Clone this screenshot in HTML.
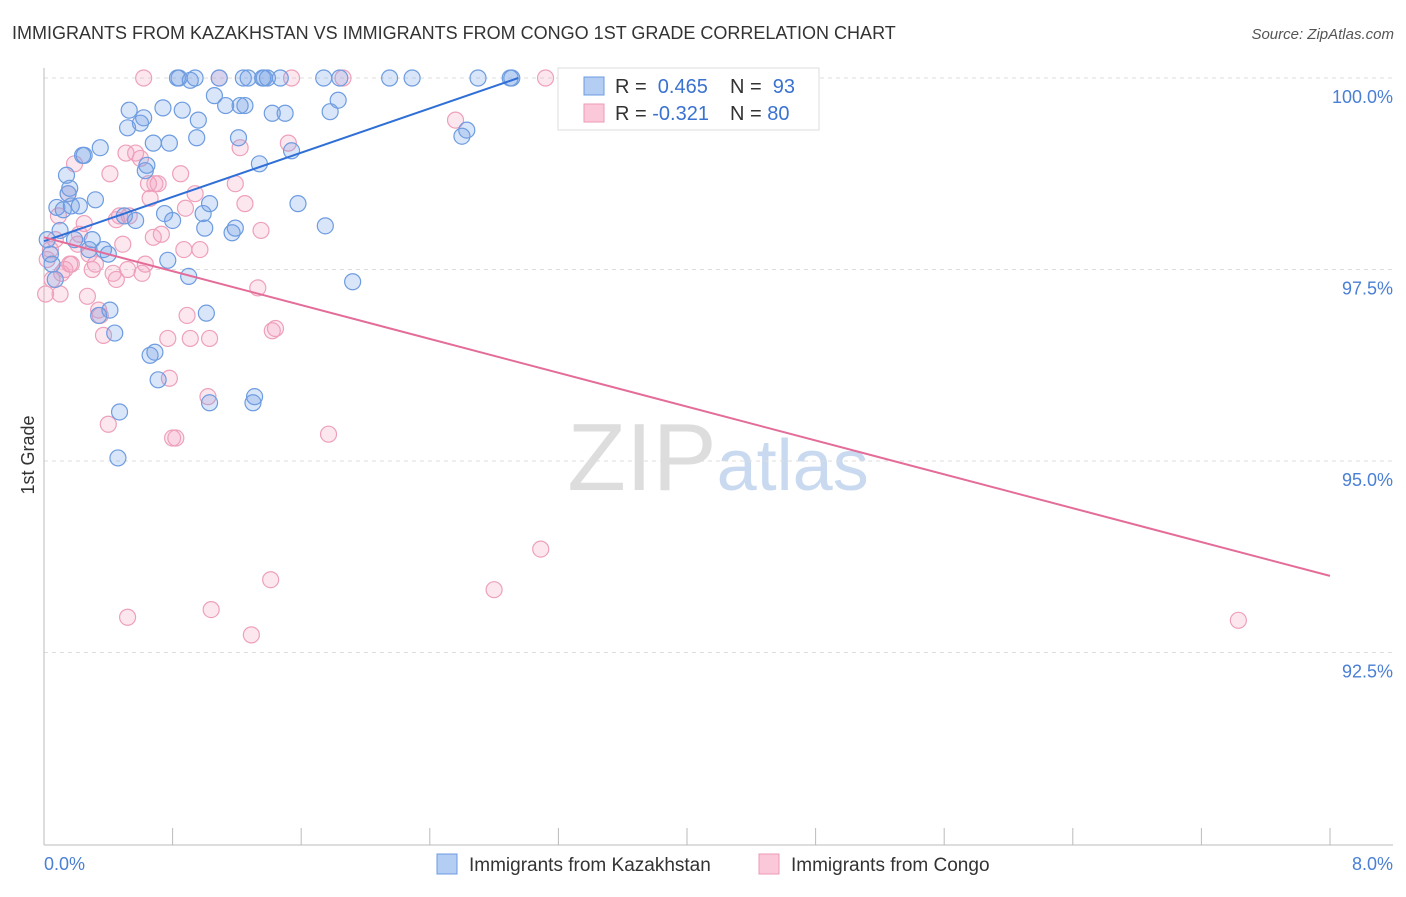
<!DOCTYPE html>
<html><head><meta charset="utf-8"><style>
body{margin:0;background:#fff;font-family:"Liberation Sans",sans-serif;}
svg text{font-family:"Liberation Sans",sans-serif;}
</style></head><body>
<svg id="chart" width="1406" height="892" xmlns="http://www.w3.org/2000/svg">
<text x="12" y="39" font-size="18" fill="#333">IMMIGRANTS FROM KAZAKHSTAN VS IMMIGRANTS FROM CONGO 1ST GRADE CORRELATION CHART</text>
<text x="1394" y="39" font-size="15" fill="#555" text-anchor="end" font-style="italic">Source: ZipAtlas.com</text>
<text x="718" y="490" font-size="96" fill="#ddd" text-anchor="middle" font-family="Liberation Serif">ZIP<tspan fill="#c9daf0" font-family="Liberation Sans" font-size="72">atlas</tspan></text>
<g id="grid"></g>
<g id="axes"></g>
<g id="pts"></g>
<g id="lines"></g>
<text transform="translate(34,455) rotate(-90)" font-size="18" fill="#333" text-anchor="middle">1st Grade</text>
<text x="44" y="870" font-size="18" fill="#4a7fd4">0.0%</text>
<text x="1393" y="870" font-size="18" fill="#4a7fd4" text-anchor="end">8.0%</text>
<g>
<rect x="558" y="68" width="261" height="62" fill="#fff" stroke="#ddd"/>
<rect x="584" y="77" width="20" height="18" fill="#b4cdf2" stroke="#6b9be0"/>
<rect x="584" y="104" width="20" height="18" fill="#fac8d8" stroke="#ee9ab8"/>
<text x="615" y="93" font-size="20" fill="#333">R = <tspan fill="#3a72d0">&#160;0.465</tspan><tspan x="730">N = </tspan><tspan fill="#3a72d0">&#160;93</tspan></text>
<text x="615" y="120" font-size="20" fill="#333">R = <tspan fill="#3a72d0">-0.321</tspan><tspan x="730">N = </tspan><tspan fill="#3a72d0">80</tspan></text>
</g>
<g>
<rect x="437" y="854" width="20" height="20" fill="#b4cdf2" stroke="#6b9be0"/>
<text x="469" y="871" font-size="19" fill="#333">Immigrants from Kazakhstan</text>
<rect x="759" y="854" width="20" height="20" fill="#fac8d8" stroke="#ee9ab8"/>
<text x="791" y="871" font-size="19" fill="#333">Immigrants from Congo</text>
</g>
</svg>
<script>
const yTicks=[100,97.5,95,92.5];
const yTickLabels=["100.0%","97.5%","95.0%","92.5%"];
const xTicks=[0,0.8,1.6,2.4,3.2,4,4.8,5.6,6.4,7.2,8];
const blueX=[0.02,0.04,0.05,0.07,0.08,0.1,0.12,0.14,0.15,0.16,0.17,0.19,0.22,0.24,0.25,0.28,0.3,0.32,0.34,0.35,0.37,0.4,0.41,0.44,0.46,0.47,0.5,0.52,0.53,0.57,0.6,0.62,0.63,0.64,0.66,0.68,0.69,0.71,0.74,0.75,0.77,0.78,0.8,0.83,0.84,0.86,0.9,0.91,0.94,0.95,0.96,0.99,1.0,1.01,1.03,1.03,1.06,1.09,1.13,1.17,1.19,1.21,1.22,1.24,1.25,1.27,1.3,1.31,1.34,1.36,1.37,1.39,1.42,1.47,1.5,1.54,1.58,1.78,1.74,1.75,1.84,1.83,1.92,2.15,2.29,2.6,2.63,2.7,2.9,2.91,3.27];
const blueY=[97.89,97.7,97.57,97.37,98.31,98.01,98.28,98.73,98.49,98.56,98.33,97.89,98.33,98.99,98.99,97.76,97.89,98.41,96.9,99.09,97.76,97.7,96.97,96.67,95.04,95.64,98.2,99.35,99.58,98.14,99.41,99.48,98.79,98.86,96.38,99.15,96.42,96.06,99.61,98.23,97.62,99.15,98.14,100,100,99.58,97.41,99.97,100,99.22,99.45,98.23,98.04,96.93,98.36,95.76,99.77,100,99.64,97.98,98.04,99.22,99.64,100,99.64,100,95.76,95.84,98.88,100,100,100,99.54,100,99.54,99.05,98.36,99.56,100,98.07,100,99.71,97.34,100,100,99.24,99.32,100,100,100,100];
const pinkX=[0.01,0.02,0.04,0.05,0.07,0.09,0.1,0.11,0.13,0.15,0.16,0.17,0.19,0.21,0.22,0.25,0.27,0.28,0.3,0.32,0.34,0.35,0.37,0.4,0.41,0.43,0.45,0.45,0.47,0.49,0.51,0.52,0.53,0.57,0.6,0.61,0.63,0.65,0.66,0.68,0.69,0.71,0.73,0.77,0.78,0.8,0.82,0.85,0.87,0.88,0.89,0.91,0.94,0.97,1.02,1.03,1.04,1.09,1.19,1.22,1.25,1.29,1.33,1.35,1.41,1.42,1.44,1.52,1.54,1.77,1.86,2.56,2.8,3.09,3.12,0.52,7.43,0.62];
const pinkY=[97.18,97.63,97.76,97.37,97.89,98.2,97.18,97.45,97.5,98.49,97.57,97.57,98.88,97.83,97.96,98.1,97.15,97.7,97.5,97.57,96.97,96.9,96.64,95.48,98.75,97.45,97.37,98.15,98.2,97.83,99.02,97.5,98.2,99.02,98.95,97.45,97.57,98.62,98.43,97.92,98.62,98.62,97.96,96.6,96.08,95.3,95.3,98.75,97.76,98.3,96.9,96.6,98.49,97.76,95.84,96.6,93.06,100,98.62,99.09,98.36,92.73,97.26,98.01,93.45,96.7,96.73,99.15,100,95.35,100,99.45,93.32,93.85,100,92.96,92.92,100];
const X=v=>44+v/8*1286, Y=v=>78+(100-v)/2.5*191.5;
const NS="http://www.w3.org/2000/svg";
function mk(tag,attrs,parent){const e=document.createElementNS(NS,tag);for(const k in attrs)e.setAttribute(k,attrs[k]);document.getElementById(parent).appendChild(e);return e;}
yTicks.forEach((t,i)=>{
 const l=mk('line',{x1:44,x2:1393,y1:Y(t),y2:Y(t),stroke:'#ddd','stroke-dasharray':'4,4'},'grid');
 
 
 const tx=mk('text',{x:1393,y:Y(t)+25,'font-size':18,fill:'#4a7fd4','text-anchor':'end'},'grid');
 tx.textContent=yTickLabels[i];
 
 
});
const ax=mk('line',{x1:44,x2:1393,y1:845,y2:845,stroke:'#bbb'},'axes');


const ay=mk('line',{x1:44,x2:44,y1:68,y2:845,stroke:'#bbb'},'axes');


xTicks.forEach(t=>{
 const l=mk('line',{x1:X(t),x2:X(t),y1:828,y2:845,stroke:'#bbb'},'axes');
 
 
});
pinkX.forEach((v,i)=>{
 const c=mk('circle',{cx:X(v),cy:Y(pinkY[i]),r:8,fill:'rgba(245,160,190,0.25)',stroke:'#eea0bb','stroke-width':1.2},'pts');
 
 
});
blueX.forEach((v,i)=>{
 const c=mk('circle',{cx:X(v),cy:Y(blueY[i]),r:8,fill:'rgba(120,160,230,0.28)',stroke:'#6d9ce0','stroke-width':1.2},'pts');
 
 
});
const bl=mk('line',{x1:X(0),y1:Y(97.87),x2:X(2.95),y2:Y(100),stroke:'#2f6fd6','stroke-width':2},'lines');


const pl=mk('line',{x1:X(0),y1:Y(97.92),x2:X(8),y2:Y(93.5),stroke:'#e46c98','stroke-width':2},'lines');


</script>
</body></html>
